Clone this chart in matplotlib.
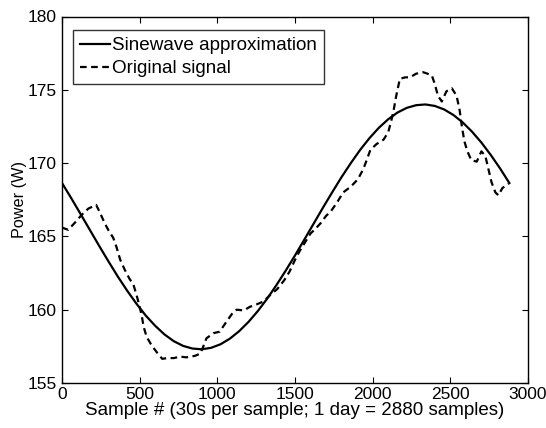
import matplotlib
matplotlib.use("Agg")
import matplotlib.pyplot as plt

plt.rcParams['font.family'] = ['Liberation Sans', 'DejaVu Sans']

# Sinewave approximation (every 60 samples)
sine_x = list(range(0, 2881, 60))
sine_y = [168.64, 167.60, 166.52, 165.43, 164.34, 163.28, 162.25, 161.29, 160.40,
          159.59, 158.90, 158.31, 157.85, 157.53, 157.35, 157.30, 157.40, 157.64,
          158.02, 158.53, 159.16, 159.90, 160.74, 161.67, 162.66, 163.70, 164.78,
          165.87, 166.96, 168.02, 169.05, 170.01, 170.91, 171.71, 172.41, 172.99,
          173.45, 173.77, 173.95, 174.00, 173.90, 173.66, 173.28, 172.77, 172.14,
          171.40, 170.56, 169.64, 168.64]

# Original signal
orig_x = [0, 40, 80, 125, 170, 220, 245, 275, 300, 330, 350, 375, 405, 435, 460,
          480, 500, 515, 525, 545, 575, 610, 645, 680, 720, 760, 800, 855, 890,
          910, 930, 975, 1015, 1060, 1100, 1125, 1170, 1210, 1250, 1295, 1340,
          1385, 1430, 1465, 1500, 1530, 1565, 1600, 1630, 1665, 1700, 1730, 1770,
          1810, 1860, 1905, 1940, 1965, 1985, 2025, 2070, 2100, 2120, 2135, 2150,
          2175, 2210, 2240, 2280, 2325, 2380, 2400, 2420, 2445, 2475, 2510, 2540,
          2560, 2573, 2590, 2610, 2635, 2670, 2700, 2725, 2745, 2765, 2790, 2810,
          2835, 2875]
orig_y = [165.6, 165.45, 165.9, 166.45, 166.9, 167.15, 166.6, 165.9, 165.4, 164.9,
          164.3, 163.4, 162.7, 162.1, 161.7, 161.0, 160.2, 159.5, 158.85, 158.15,
          157.6, 157.1, 156.65, 156.7, 156.7, 156.8, 156.75, 156.85, 157.0, 157.5,
          158.05, 158.4, 158.5, 159.2, 159.8, 160.0, 159.95, 160.2, 160.35, 160.55,
          161.0, 161.4, 162.0, 162.6, 163.4, 164.0, 164.6, 165.2, 165.5, 165.9,
          166.4, 166.7, 167.3, 168.0, 168.4, 168.9, 169.6, 170.3, 170.9, 171.3,
          171.6, 172.1, 172.9, 173.6, 174.5, 175.75, 175.85, 175.85, 176.1, 176.2,
          176.0, 175.4, 174.6, 174.2, 174.9, 175.1, 174.6, 173.6, 172.6, 171.5,
          170.8, 170.2, 170.1, 170.8, 170.5, 169.6, 168.7, 168.0, 167.8, 168.3,
          168.6]

x_ticks = [0, 500, 1000, 1500, 2000, 2500, 3000]
y_ticks = [155, 160, 165, 170, 175, 180]

W, H = 546, 428
L, R, T, B = 62, 528, 16.5, 383

fig = plt.figure(figsize=(W / 100, H / 100), dpi=100)
ax = fig.add_axes([L / W, (H - B) / H, (R - L) / W, (B - T) / H])

ax.plot(sine_x, sine_y, color='black', linewidth=1.6, label='Sinewave approximation')
ax.plot(orig_x, orig_y, color='black', linewidth=1.6, linestyle=(0, (3.0, 2.0)),
        label='Original signal')

ax.set_xlim(0, 3000)
ax.set_ylim(155, 180)
ax.set_xticks(x_ticks)
ax.set_yticks(y_ticks)
ax.tick_params(direction='in', top=True, right=True, length=4, width=0.8,
               labelsize=12.5, pad=3)
ax.tick_params(axis='y', pad=4)
for s in ax.spines.values():
    s.set_linewidth(1.0)

ax.set_xlabel('Sample # (30s per sample; 1 day = 2880 samples)', fontsize=13.5, labelpad=0)
ax.set_ylabel('Power (W)', fontsize=11.7, labelpad=0)

leg = ax.legend(loc='upper left', fontsize=13.6, frameon=True, fancybox=False,
                edgecolor='black', handlelength=1.6, handletextpad=0.1,
                borderpad=0.38, labelspacing=0.3, borderaxespad=0,
                bbox_to_anchor=((73 - L) / (R - L), (B - 30) / (B - T)))
leg.get_frame().set_linewidth(1.0)

fig.savefig('out.png', dpi=100)
